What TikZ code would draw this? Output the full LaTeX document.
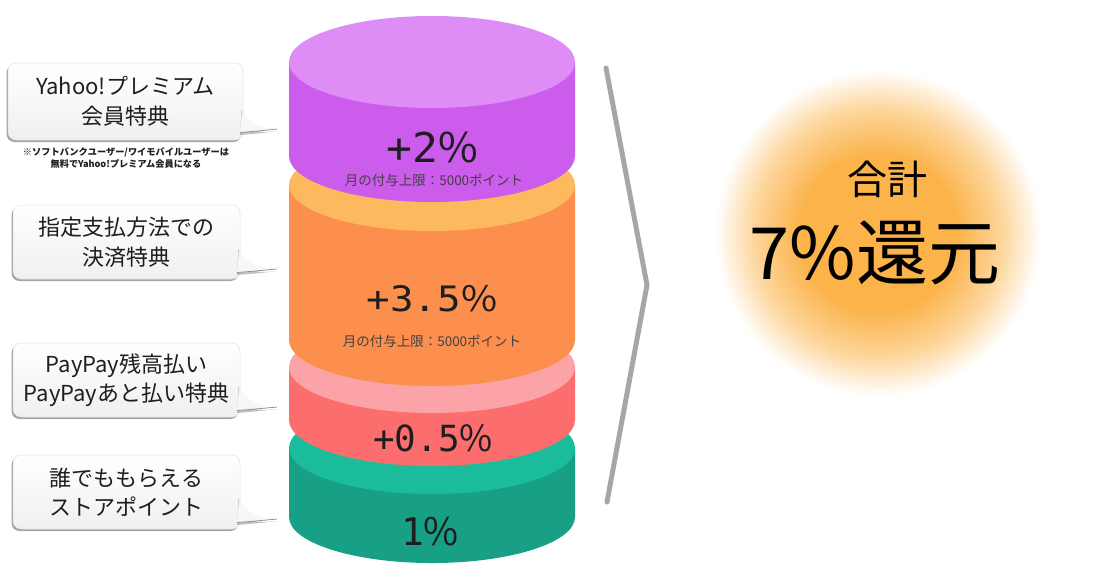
\documentclass[tikz,border=0pt]{standalone}
\usepackage{fontspec}
\setmainfont{Noto Sans CJK JP}
\newfontfamily\monofnt{DejaVu Sans Mono}
\newfontfamily\pctfnt{Noto Sans CJK JP}
\usetikzlibrary{shadows}
\definecolor{glowc}{HTML}{FBB34A}
\definecolor{purpleS}{HTML}{CB5CEC}
\definecolor{purpleT}{HTML}{DD8DF5}
\definecolor{orangeS}{HTML}{FD8F4E}
\definecolor{orangeT}{HTML}{FDB95E}
\definecolor{pinkS}{HTML}{FC6D6E}
\definecolor{pinkT}{HTML}{FCA3A8}
\definecolor{greenS}{HTML}{17A085}
\definecolor{greenT}{HTML}{1BBC9B}
\definecolor{txt}{HTML}{1E1E1E}
\definecolor{chev}{HTML}{A6A6A6}
\pgfdeclareradialshading{glowshade}{\pgfpoint{0bp}{0bp}}{color(0bp)=(glowc); color(12bp)=(glowc); color(19bp)=(glowc!55!white); color(25bp)=(white); color(50bp)=(white)}
\newcommand\cylLayer[4]{%
  \fill[#3] (289,-#1) -- (289,-#2) arc[start angle=180,end angle=360,x radius=143,y radius=46] -- (575,-#1) -- cycle;
  \fill[#4] (432,-#1) ellipse[x radius=143,y radius=46];}
\newcommand\callTail[3]{% x2, tip y, bottom y
  \fill[black!40,opacity=0.6] (#1-1.5,-#3+30) .. controls (#1+9,-#2-7) and (#1+19,-#2-3.5) .. (277.5,-#2-2) .. controls (#1+22,-#2-4) and (#1+9,-#2-5) .. (#1-3,-#2-6) -- cycle;
  \fill[black!3] (#1-1,-#3+28) .. controls (#1+9,-#2+5) and (#1+19,-#2+1) .. (277,-#2) .. controls (#1+22,-#2-1.5) and (#1+9,-#2-2.5) .. (#1-3,-#2-3.5) -- cycle;
  \draw[black!45,line width=0.7pt] (277,-#2) .. controls (#1+22,-#2-1.5) and (#1+9,-#2-2.5) .. (#1-3,-#2-3.5);}
\newcommand\pc{{\pctfnt\%}}
\begin{document}
\begin{tikzpicture}[x=1pt,y=1pt,
  callbox/.style={rounded corners=8pt, top color=white, bottom color=black!6, draw=black!12, line width=0.5pt,
     drop shadow={shadow xshift=-1.5pt, shadow yshift=-2pt, fill=black!50, opacity=0.7},
     align=center, text=txt, inner sep=0pt, font=\fontsize{22}{29.5}\selectfont},
  pct/.style={text=txt, inner sep=0pt},
  small/.style={text=txt!85, inner sep=0pt, font=\fontsize{13.5}{14}\selectfont},
  note/.style={text=txt, inner sep=0pt, font=\fontsize{9.2}{12}\selectfont\bfseries}]
\useasboundingbox (0,0) rectangle (1100,-566);
\fill[white] (0,0) rectangle (1100,-566);

% callouts
\node[callbox, minimum width=235pt, minimum height=77pt] (c1) at (125.5,-101.5) {Yahoo!プレミアム\\会員特典};
\callTail{243}{129}{140}
\node[note] (n1) at (126,-152) {※ソフトバンクユーザー/ワイモバイルユーザーは};
\node[note] (n2) at (126,-164) {無料でYahoo!プレミアム会員になる};

\node[callbox, minimum width=227pt, minimum height=74pt] (c2) at (126.5,-242) {指定支払方法での\\決済特典};
\callTail{240}{269}{279}

\node[callbox, minimum width=227pt, minimum height=74pt] (c3) at (126.5,-380) {PayPay残高払い\\PayPayあと払い特典};
\callTail{240}{407}{417}

\node[callbox, minimum width=227pt, minimum height=74pt] (c4) at (126.5,-492) {誰でももらえる\\ストアポイント};
\callTail{240}{519}{529}

% cylinders (bottom to top)
\cylLayer{448}{517}{greenS}{greenT}
\cylLayer{367}{420}{pinkS}{pinkT}
\cylLayer{185}{340}{orangeS}{orangeT}
\cylLayer{62}{156}{purpleS}{purpleT}

\node[pct, font=\monofnt\fontsize{41}{41}\selectfont] (v1) at (432,-147) {\scalebox{1.05}[1]{+2\pc}};
\node[small] (s1) at (434,-180) {月の付与上限：5000ポイント};
\node[pct, font=\monofnt\fontsize{35}{35}\selectfont] (v2) at (432,-299) {\scalebox{1.12}[1]{+3.5\pc}};
\node[pct, font=\monofnt\fontsize{36}{36}\selectfont] (v3) at (433,-438) {+0.5\pc};
\node[small] (s2) at (432,-341) {月の付与上限：5000ポイント};
\node[pct, font=\monofnt\fontsize{38}{38}\selectfont] (v4) at (430,-532) {1\pc};

% chevron
\coordinate (k1) at (606,-68);
\coordinate (k2) at (647,-285);
\coordinate (k3) at (607,-502);
\draw[chev, line width=5pt, line cap=round, line join=round] (k1) -- (k2) -- (k3);

% glow
\shade[shading=glowshade] (878,-233) circle (163);
\node[text=black, inner sep=0pt, font=\fontsize{40}{40}\selectfont] (g1) at (887,-179) {合計};
\node[text=black, inner sep=0pt, font=\fontsize{72}{72}\selectfont] (g2) at (875,-253) {7\%還元};
\end{tikzpicture}
\end{document}
